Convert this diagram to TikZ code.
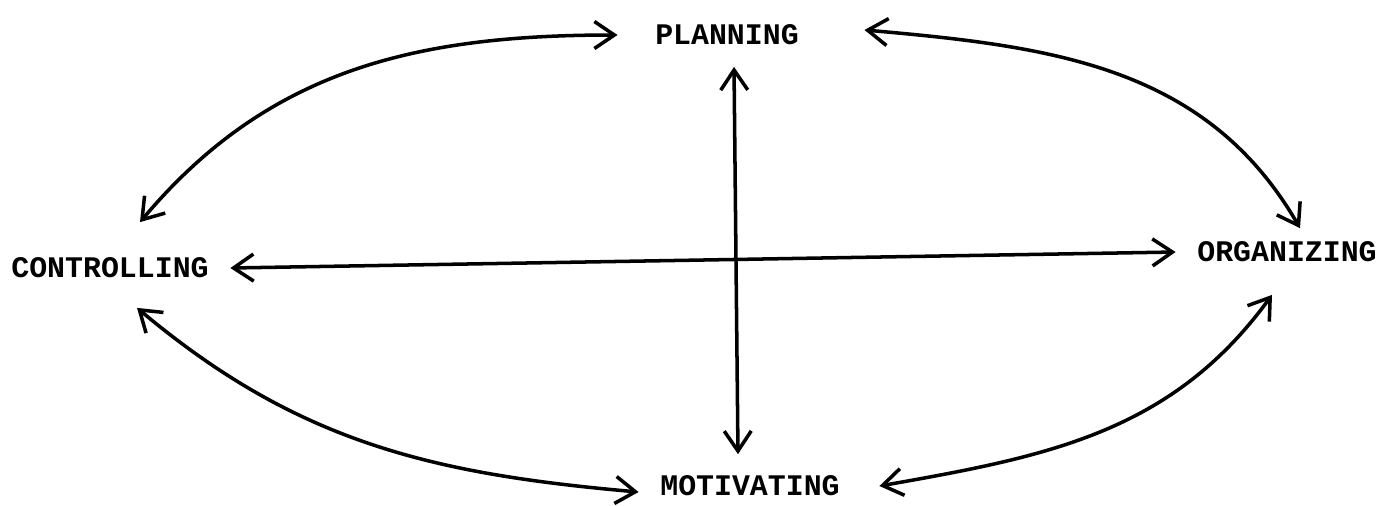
\documentclass[tikz,border=0pt]{standalone}
\usepackage{fontspec}
\setmonofont{Liberation Mono}
\usetikzlibrary{arrows.meta}
\begin{document}
\begin{tikzpicture}[x=0.01cm, y=0.01cm]
    % Styles
    \tikzstyle{function} = [font=\ttfamily\bfseries\fontsize{8.5}{10}\selectfont, outer sep=1mm]
    \tikzstyle{arrow} = [line width=1pt, {Straight Barb[length=2mm,width=2.7mm]}-{Straight Barb[length=2mm,width=2.7mm]}]

    \useasboundingbox (0,0) rectangle (1385,-505);

    % Nodes
    \node [function] (planning) at (727,-35) {PLANNING};
    \node [function] (controlling) at (110,-268) {CONTROLLING};
    \node [function] (organizing) at (1287,-252) {ORGANIZING};
    \node [function] (motivating) at (750,-486) {MOTIVATING};

    % Arrows
    \draw [arrow] ([xshift=0.7mm]planning.south) -- ([xshift=-1.2mm]motivating.north);
    \draw [arrow] (controlling.east) -- (organizing.west);
    \draw [arrow] ([xshift=3mm,yshift=1.4mm]controlling.north) to[out=50, in=180] ([xshift=-1.6mm]planning.west);
    \draw [arrow] ([xshift=4.4mm,yshift=0.5mm]planning.east) to[out=-5, in=120] ([xshift=1.3mm,yshift=-0.8mm]organizing.north);
    \draw [arrow] ([xshift=2.7mm,yshift=-0.8mm]controlling.south) to[out=-40, in=175] ([yshift=-0.6mm]motivating.west);
    \draw [arrow] ([xshift=1.8mm]motivating.east) to[out=10, in=-126] ([xshift=-1.5mm,yshift=-1.1mm]organizing.south);
\end{tikzpicture}
\end{document}
